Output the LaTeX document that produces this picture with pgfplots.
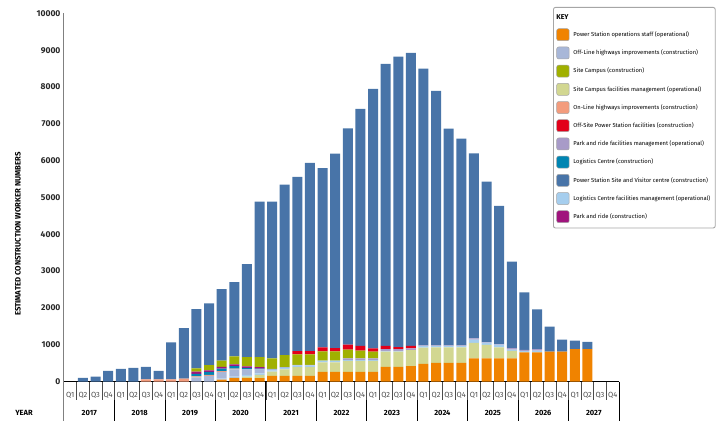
\documentclass[border=0pt]{standalone}
\usepackage{fontspec}
\setmainfont{Fira Sans}
\usepackage{pgfplots}
\usepackage{pgfplotstable}
\pgfplotsset{compat=1.18}
\definecolor{colO}{RGB}{240,131,0}
\definecolor{colP}{RGB}{210,215,145}
\definecolor{colL}{RGB}{166,206,238}
\definecolor{colV}{RGB}{168,155,200}
\definecolor{colG}{RGB}{168,183,216}
\definecolor{colS}{RGB}{243,156,125}
\definecolor{colT}{RGB}{0,133,178}
\definecolor{colM}{RGB}{160,20,125}
\definecolor{colC}{RGB}{160,176,0}
\definecolor{colR}{RGB}{226,0,26}
\definecolor{colB}{RGB}{72,116,168}
\pgfplotsset{sw/.style={legend image code/.code={\draw[fill=#1,draw=gray!70,line width=0.5pt] (0pt,-6pt) rectangle (12.5pt,6pt);}}}

% x O=PS ops staff, P=Site Campus FM, L=Logistics FM, V=P&R FM, G=Off-Line hwy,
% S=On-Line hwy, T=Logistics constr, M=P&R constr, C=Site Campus constr, R=Off-Site PS, B=PS site
\pgfplotstableread{
x O P L V G S T M C R B
0 0 0 0 0 0 0 0 0 0 0 0
1 0 0 0 0 0 0 0 0 0 0 100
2 0 0 0 0 0 0 0 0 0 0 130
3 0 0 0 0 0 0 0 0 0 0 290
4 0 0 0 0 0 0 0 0 0 0 340
5 0 0 0 0 0 0 0 0 0 0 370
6 0 0 0 0 0 60 0 0 0 0 340
7 0 0 0 0 0 60 0 0 0 0 230
8 0 0 0 0 0 60 0 0 0 0 1000
9 0 0 0 0 0 80 0 0 0 0 1370
10 0 0 0 0 110 30 70 55 95 0 1610
11 0 0 0 0 150 30 80 45 140 0 1675
12 50 0 30 0 180 20 70 45 170 0 1945
13 100 0 30 0 200 20 70 45 220 0 2015
14 90 40 50 0 150 0 40 40 250 0 2530
15 90 90 40 0 110 0 20 40 270 0 4230
16 150 120 30 0 40 0 0 0 290 0 4260
17 150 180 40 0 20 0 0 0 330 0 4630
18 150 240 40 0 20 0 0 0 290 85 4735
19 150 240 40 0 20 0 0 0 290 85 5115
20 260 260 50 0 0 0 0 0 250 105 4875
21 260 260 50 0 0 0 0 0 250 90 5280
22 260 300 20 50 0 0 0 0 235 135 5880
23 260 300 20 50 0 0 0 0 210 125 6445
24 260 300 20 50 0 0 0 0 180 90 7050
25 400 410 20 50 0 0 0 0 0 90 7660
26 400 410 20 50 0 0 0 0 0 55 7895
27 420 430 0 50 0 0 0 0 0 65 7965
28 480 440 45 15 0 0 0 0 0 0 7520
29 505 420 45 15 0 0 0 0 0 0 6915
30 505 420 45 15 0 0 0 0 0 0 5885
31 505 420 45 15 0 0 0 0 0 0 5615
32 630 420 90 30 0 0 0 0 0 0 5030
33 630 365 60 15 0 0 0 0 0 0 4360
34 630 295 75 15 0 0 0 0 0 0 3755
35 630 205 30 40 0 0 0 0 0 0 2355
36 790 0 40 30 0 0 0 0 0 0 1560
37 790 0 50 40 0 0 0 0 0 0 1080
38 810 0 0 0 0 0 0 0 0 0 680
39 815 0 0 0 0 0 0 0 0 0 325
40 880 0 0 0 0 0 0 0 0 0 230
41 880 0 0 0 0 0 0 0 0 0 200
42 0 0 0 0 0 0 0 0 0 0 0
43 0 0 0 0 0 0 0 0 0 0 0
}\datatable

\begin{document}
\begin{tikzpicture}
\begin{axis}[
  at={(0,0)}, anchor=south west,
  scale only axis, width=555pt, height=368pt,
  ybar stacked, bar width=10pt,
  xmin=-0.5, xmax=43.5, ymin=0, ymax=10000,
  axis x line*=bottom, axis y line*=left,
  x axis line style={-, black, line width=0.9pt},
  y axis line style={-, gray, line width=1pt},
  major tick length=0pt,
  xtick={0,...,43},
  xticklabels={Q1,Q2,Q3,Q4,Q1,Q2,Q3,Q4,Q1,Q2,Q3,Q4,Q1,Q2,Q3,Q4,Q1,Q2,Q3,Q4,Q1,Q2,Q3,Q4,Q1,Q2,Q3,Q4,Q1,Q2,Q3,Q4,Q1,Q2,Q3,Q4,Q1,Q2,Q3,Q4,Q1,Q2,Q3,Q4},
  xticklabel style={anchor=center, yshift=-13.3pt, font=\fontsize{7.5}{8}\selectfont, text=black!70},
  ytick={0,1000,...,10000},
  scaled y ticks=false,
  yticklabel style={font=\bfseries\fontsize{8.5}{9}\selectfont, text=black!85},
  /pgf/number format/assume math mode=true,
  /pgf/number format/1000 sep={},
  clip=false,
  legend cell align=left,
  legend style={at={(0.8811,1.0177)}, anchor=north west, draw=gray!70, line width=0.9pt,
    rounded corners=2pt, font=\fontsize{5.8}{6.5}\selectfont, row sep=5.7pt,
    inner xsep=3pt, inner ysep=5pt,
    /tikz/every odd column/.append style={column sep=2pt}},
]
\addlegendimage{empty legend}\addlegendentry{\hspace*{-19pt}\fontsize{7}{8}\selectfont\bfseries KEY}
\addlegendimage{sw=colO}\addlegendentry{Power Station operations staff (operational)}
\addlegendimage{sw=colG}\addlegendentry{Off-Line highways improvements (construction)}
\addlegendimage{sw=colC}\addlegendentry{Site Campus (construction)}
\addlegendimage{sw=colP}\addlegendentry{Site Campus facilities management (operational)}
\addlegendimage{sw=colS}\addlegendentry{On-Line highways improvements (construction)}
\addlegendimage{sw=colR}\addlegendentry{Off-Site Power Station facilities (construction)}
\addlegendimage{sw=colV}\addlegendentry{Park and ride facilities management (operational)}
\addlegendimage{sw=colT}\addlegendentry{Logistics Centre (construction)}
\addlegendimage{sw=colB}\addlegendentry{Power Station Site and Visitor centre (construction)}
\addlegendimage{sw=colL}\addlegendentry{Logistics Centre facilities management (operational)}
\addlegendimage{sw=colM}\addlegendentry{Park and ride (construction)}

\addplot[fill=colO, draw=none] table[x=x,y=O] {\datatable};
\addplot[fill=colP, draw=none] table[x=x,y=P] {\datatable};
\addplot[fill=colL, draw=none] table[x=x,y=L] {\datatable};
\addplot[fill=colV, draw=none] table[x=x,y=V] {\datatable};
\addplot[fill=colG, draw=none] table[x=x,y=G] {\datatable};
\addplot[fill=colS, draw=none] table[x=x,y=S] {\datatable};
\addplot[fill=colT, draw=none] table[x=x,y=T] {\datatable};
\addplot[fill=colM, draw=none] table[x=x,y=M] {\datatable};
\addplot[fill=colC, draw=none] table[x=x,y=C] {\datatable};
\addplot[fill=colR, draw=none] table[x=x,y=R] {\datatable};
\addplot[fill=colB, draw=none] table[x=x,y=B] {\datatable};

\pgfplotsinvokeforeach{0.5,1.5,...,42.5}{\draw[gray!60!black, line width=0.6pt] (axis cs:#1,0) -- ++(0pt,-18.5pt);}
\pgfplotsinvokeforeach{3.5,7.5,...,43.5}{\draw[black, line width=0.8pt] (axis cs:#1,0) -- ++(0pt,-39.5pt);}
\draw[gray, line width=1pt] (axis cs:-0.5,0) -- ++(0pt,-39.5pt);
\node[font=\bfseries\fontsize{7.5}{8}\selectfont] at (axis cs:1.5,0) [yshift=-31.3pt] {2017};
\node[font=\bfseries\fontsize{7.5}{8}\selectfont] at (axis cs:5.5,0) [yshift=-31.3pt] {2018};
\node[font=\bfseries\fontsize{7.5}{8}\selectfont] at (axis cs:9.5,0) [yshift=-31.3pt] {2019};
\node[font=\bfseries\fontsize{7.5}{8}\selectfont] at (axis cs:13.5,0) [yshift=-31.3pt] {2020};
\node[font=\bfseries\fontsize{7.5}{8}\selectfont] at (axis cs:17.5,0) [yshift=-31.3pt] {2021};
\node[font=\bfseries\fontsize{7.5}{8}\selectfont] at (axis cs:21.5,0) [yshift=-31.3pt] {2022};
\node[font=\bfseries\fontsize{7.5}{8}\selectfont] at (axis cs:25.5,0) [yshift=-31.3pt] {2023};
\node[font=\bfseries\fontsize{7.5}{8}\selectfont] at (axis cs:29.5,0) [yshift=-31.3pt] {2024};
\node[font=\bfseries\fontsize{7.5}{8}\selectfont] at (axis cs:33.5,0) [yshift=-31.3pt] {2025};
\node[font=\bfseries\fontsize{7.5}{8}\selectfont] at (axis cs:37.5,0) [yshift=-31.3pt] {2026};
\node[font=\bfseries\fontsize{7.5}{8}\selectfont] at (axis cs:41.5,0) [yshift=-31.3pt] {2027};
\end{axis}
\node[rotate=90, font=\bfseries\fontsize{7.8}{9}\selectfont] at (-46pt,147.5pt) {ESTIMATED CONSTRUCTION WORKER NUMBERS};
\node[font=\bfseries\fontsize{7.5}{8}\selectfont] at (-40pt,-31.3pt) {YEAR};
\pgfresetboundingbox
\path (-64pt,-39.5pt) rectangle (654pt,381.5pt);
\end{tikzpicture}
\end{document}
